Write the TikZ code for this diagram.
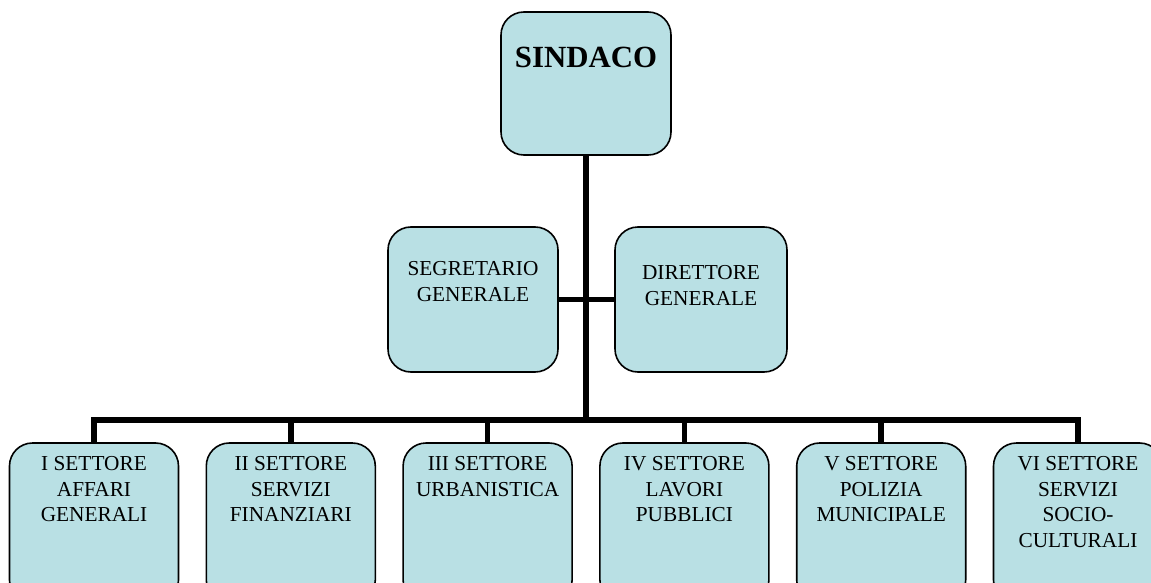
\documentclass[tikz,border=0pt]{standalone}
\usepackage{fontspec}
\setmainfont{Liberation Serif}
\usetikzlibrary{positioning}
\definecolor{boxfill}{RGB}{185,224,228}
\tikzset{
  ufficio/.style={draw=black, line width=1.6pt, fill=boxfill, rounded corners=23pt,
    minimum width=169pt, inner sep=0pt},
  testo/.style={align=center, inner sep=0pt, font=\fontsize{21.3}{25.5}\selectfont},
  linea/.style={line width=5.5pt, black}
}
\begin{document}
\begin{tikzpicture}[x=1pt, y=-1pt]
  \useasboundingbox (0,0) rectangle (1151,583);
  \clip (0,0) rectangle (1151,583);
  \def\passo{196.8} % distanza tra i settori

  % vertice
  \node[ufficio, minimum width=170pt, minimum height=143pt] (sindaco) at (586,83.5) {};
  \node[testo, font=\fontsize{30.8}{34}\selectfont\bfseries, below=36pt of sindaco.north] (sindacoT) {SINDACO};

  % staff
  \node[ufficio, minimum width=170pt, minimum height=145pt] (segretario) at (473,299.5) {};
  \node[ufficio, minimum width=172pt, minimum height=145pt] (direttore) at (701,299.5) {};
  \node[testo, below=35pt of segretario.north] (segretarioT) {SEGRETARIO\\GENERALE};
  \node[testo, below=39pt of direttore.north] (direttoreT) {DIRETTORE\\GENERALE};

  % settori
  \foreach \i/\txt in {1/{I SETTORE\\AFFARI\\GENERALI},
                       2/{II SETTORE\\SERVIZI\\FINANZIARI},
                       3/{III SETTORE\\URBANISTICA},
                       4/{IV SETTORE\\LAVORI\\PUBBLICI},
                       5/{V SETTORE\\POLIZIA\\MUNICIPALE},
                       6/{VI SETTORE\\SERVIZI\\SOCIO-\\CULTURALI}}{
    \node[ufficio, minimum height=160pt] (s\i) at ({94+\passo*(\i-1)},523) {};
    \node[testo, below=14pt of s\i.north] (s\i T) {\txt};
  }

  % collegamenti
  \coordinate (nodo) at (586,420);
  \draw[linea] (sindaco.south) -- (nodo);
  \draw[linea] (segretario.east) -- (direttore.west);
  \draw[linea] (s1.north) |- (nodo) -| (s6.north);
  \foreach \i in {2,...,5}
    \draw[linea] (s\i.north) -- (s\i.north |- nodo);
\end{tikzpicture}
\end{document}
